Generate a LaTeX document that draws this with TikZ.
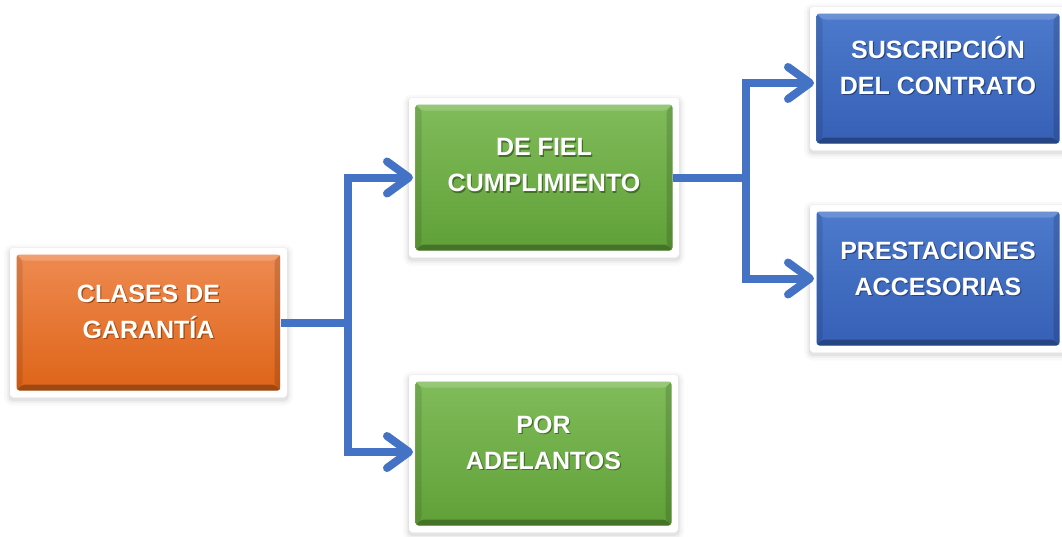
\documentclass[tikz,border=0pt]{standalone}
\usepackage{fontspec}
\setmainfont{Liberation Sans}
\usetikzlibrary{arrows.meta,calc}
\definecolor{otop}{RGB}{238,138,80}
\definecolor{obot}{RGB}{222,100,24}
\definecolor{gtop}{RGB}{128,188,90}
\definecolor{gbot}{RGB}{96,160,56}
\definecolor{btop}{RGB}{76,122,204}
\definecolor{bbot}{RGB}{54,96,182}
\definecolor{conncol}{RGB}{68,114,196}
\colorlet{tshc}{black!50}
\newcommand\tsh[1]{\leavevmode\rlap{\kern1.2pt\raisebox{-1.2pt}{\textcolor{tshc}{#1}}}#1}
\tikzset{
  framebox/.style n args={2}{rectangle, fill=white, rounded corners=3pt,
    inner sep=0pt, outer sep=0pt,
    preaction={draw=black, line width=12pt, opacity=0.025, transform canvas={yshift=-2.5pt}},
    preaction={draw=black, line width=7pt, opacity=0.035, transform canvas={yshift=-2.5pt}},
    preaction={draw=black, line width=3pt, opacity=0.05, transform canvas={yshift=-2.5pt}},
    path picture={
      \coordinate (pNW) at ([shift={(6.5pt,-6.5pt)}]path picture bounding box.north west);
      \coordinate (pSE) at ([shift={(-6.5pt,6.5pt)}]path picture bounding box.south east);
      \coordinate (pNE) at (pSE |- pNW);
      \coordinate (pSW) at (pNW |- pSE);
      \shade[top color=#1, bottom color=#2] (pNW) rectangle (pSE);
      \fill[white, opacity=0.18] (pNW) -- (pNE) -- ([shift={(-6pt,-6pt)}]pNE) -- ([shift={(6pt,-6pt)}]pNW) -- cycle;
      \fill[black, opacity=0.28] (pSW) -- (pSE) -- ([shift={(-6pt,6pt)}]pSE) -- ([shift={(6pt,6pt)}]pSW) -- cycle;
      \fill[black, opacity=0.10] (pNW) -- ([shift={(6pt,-6pt)}]pNW) -- ([shift={(6pt,6pt)}]pSW) -- (pSW) -- cycle;
      \fill[black, opacity=0.14] (pNE) -- ([shift={(-6pt,-6pt)}]pNE) -- ([shift={(-6pt,6pt)}]pSE) -- (pSE) -- cycle;
    }},
  obox/.style={framebox={otop}{obot}},
  gbox/.style={framebox={gtop}{gbot}},
  bbox/.style={framebox={btop}{bbot}},
  lbl/.style={text=white, align=center, inner sep=0pt,
    font=\fontsize{25}{36}\selectfont\bfseries},
  olbl/.style={lbl, execute at begin node={\colorlet{tshc}{obot!70!black}}},
  glbl/.style={lbl, execute at begin node={\colorlet{tshc}{gbot!70!black}}},
  blbl/.style={lbl, execute at begin node={\colorlet{tshc}{bbot!70!black}}},
  conn/.style={draw=conncol, line width=8pt},
  tip/.style={-{Straight Barb[length=22pt, width=32pt, round]}}
}
\begin{document}
\begin{tikzpicture}[x=1pt, y=-1pt]
\clip (0,0) rectangle (1062,536);
\fill[white] (0,0) rectangle (1062,536);

\node[obox, minimum width=277pt, minimum height=149pt] (A) at (148.5,322.5) {};
\node[gbox, minimum width=270pt, minimum height=159pt] (B) at (544,177.5) {};
\node[gbox, minimum width=269pt, minimum height=157pt] (C) at (543.5,453.5) {};
\node[bbox, minimum width=256pt, minimum height=143pt] (D) at (938,78.5) {};
\node[bbox, minimum width=256pt, minimum height=147pt] (E) at (938,278.5) {};

\node[olbl] (At) at (148.5,312.5) {\tsh{CLASES DE}\\\tsh{GARANTÍA}};
\node[glbl] (Bt) at (544,166) {\tsh{DE FIEL}\\\tsh{CUMPLIMIENTO}};
\node[glbl] (Ct) at (543.5,443) {\tsh{POR}\\\tsh{ADELANTOS}};
\node[blbl] (Dt) at (938,66) {\tsh{SUSCRIPCIÓN}\\\tsh{DEL CONTRATO}};
\node[blbl] (Et) at (938,269) {\tsh{PRESTACIONES}\\\tsh{ACCESORIAS}};

\coordinate (j1) at (348,322.5);
\coordinate (j2) at (746,177.5);
\draw[conn] ([xshift=-6pt]A.east) -- (j1);
\draw[conn, tip] (j1) |- ([xshift=4pt]B.west);
\draw[conn, tip] (j1) |- ([shift={(4pt,1.5pt)}]C.west);
\draw[conn] ([xshift=-6pt]B.east) -- (j2);
\draw[conn, tip] (j2) |- ([shift={(4pt,-4.5pt)}]D.west);
\draw[conn, tip] (j2) |- ([xshift=4pt]E.west);
\end{tikzpicture}
\end{document}
